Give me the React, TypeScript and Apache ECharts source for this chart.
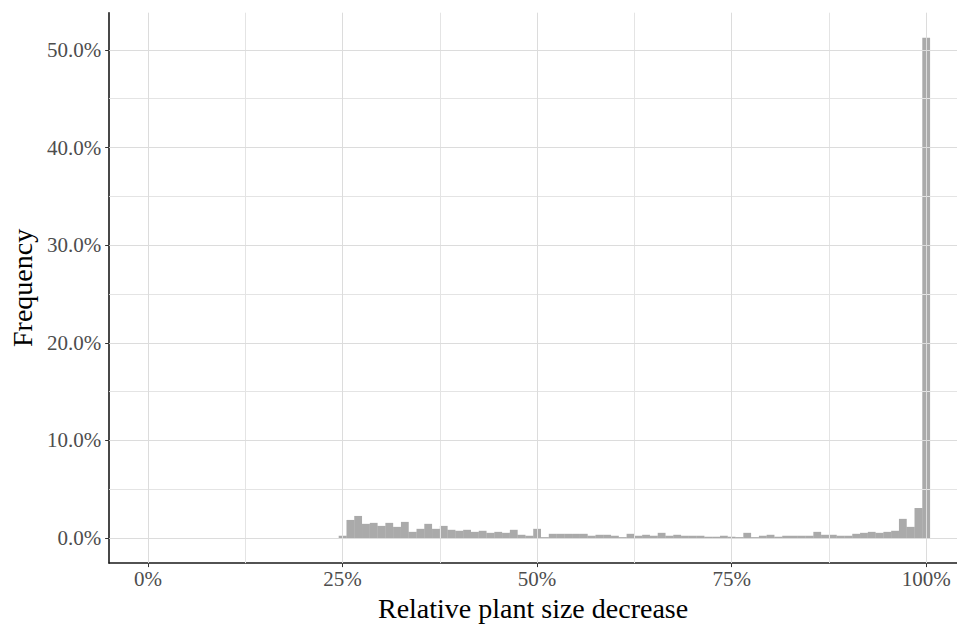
import React, { useEffect, useRef } from "react";
import * as echarts from "echarts";

// Histogram bin centres (relative plant size decrease, %)
const binCenters: number[] = [
  25, 26, 27, 28, 29, 30, 31, 32, 33, 34, 35, 36, 37, 38, 39, 40, 41, 42, 43, 44,
  45, 46, 47, 48, 49, 50, 51, 52, 53, 54, 55, 56, 57, 58, 59, 60, 61, 62, 63, 64,
  65, 66, 67, 68, 69, 70, 71, 72, 73, 74, 75, 76, 77, 78, 79, 80, 81, 82, 83, 84,
  85, 86, 87, 88, 89, 90, 91, 92, 93, 94, 95, 96, 97, 98, 99, 100,
];
// Frequency (%) per bin
const frequency: number[] = [
  0.24, 1.86, 2.27, 1.46, 1.56, 1.25, 1.56, 1.15, 1.66, 0.64, 0.95, 1.46, 0.95, 1.25, 0.85, 0.75, 0.85, 0.64, 0.75, 0.54,
  0.64, 0.54, 0.85, 0.34, 0.24, 0.95, 0.1, 0.44, 0.44, 0.44, 0.44, 0.44, 0.24, 0.34, 0.34, 0.24, 0.1, 0.44, 0.24, 0.34,
  0.24, 0.54, 0.24, 0.34, 0.24, 0.24, 0.24, 0.14, 0.14, 0.24, 0.14, 0.1, 0.54, 0.1, 0.24, 0.34, 0.14, 0.24, 0.24, 0.24,
  0.24, 0.64, 0.34, 0.34, 0.24, 0.24, 0.44, 0.54, 0.64, 0.54, 0.64, 0.75, 1.97, 1.15, 3.08, 51.25,
];
const binWidth = 1;

const xTicks: number[] = [0, 25, 50, 75, 100];
const xMinorGrid: number[] = [12.5, 37.5, 62.5, 87.5];
const yTicks: number[] = [0, 10, 20, 30, 40, 50];
const yMinorGrid: number[] = [5, 15, 25, 35, 45];

const FONT = "Liberation Serif";

export default function App() {
  const ref = useRef<HTMLDivElement>(null);
  useEffect(() => {
    if (!ref.current) return;
    const chart = echarts.init(ref.current, null, { renderer: "svg" });
    const majorLine = { color: "#dcdcdc", width: 1, type: "solid" as const };
    const minorLine = { color: "#e4e4e4", width: 1, type: "solid" as const };
    chart.setOption({
      animation: false,
      backgroundColor: "#ffffff",
      grid: { left: 105.7, top: 12.7, right: 0, bottom: 58.7, containLabel: false },
      xAxis: {
        type: "value",
        min: -5,
        max: 103.96,
        name: "Relative plant size decrease",
        nameLocation: "middle",
        nameGap: 24,
        nameTextStyle: { fontFamily: FONT, fontSize: 28, color: "#000" },
        axisLine: { show: true, onZero: false, lineStyle: { color: "#1a1a1a", width: 1.6 } },
        axisTick: { show: true, customValues: xTicks, length: 4, lineStyle: { color: "#333", width: 1 } },
        axisLabel: {
          customValues: xTicks,
          margin: 5,
          fontFamily: FONT,
          fontSize: 21,
          color: "#4d4d4d",
          formatter: (v: number) => `${v}%`,
        },
        splitLine: { show: false },
      },
      yAxis: {
        type: "value",
        min: -2.56,
        max: 53.81,
        name: "Frequency",
        nameLocation: "middle",
        nameGap: 70,
        nameRotate: 90,
        nameTextStyle: { fontFamily: FONT, fontSize: 28, color: "#000" },
        axisLine: { show: true, onZero: false, lineStyle: { color: "#1a1a1a", width: 1.6 } },
        axisTick: { show: true, customValues: yTicks, length: 4, lineStyle: { color: "#333", width: 1 } },
        axisLabel: {
          customValues: yTicks,
          margin: 8,
          fontFamily: FONT,
          fontSize: 21,
          color: "#4d4d4d",
          formatter: (v: number) => `${v.toFixed(1)}%`,
        },
        splitLine: { show: false },
      },
      series: [
        {
          type: "line",
          data: [],
          z: 1,
          silent: true,
          markLine: {
            silent: true,
            symbol: ["none", "none"],
            label: { show: false },
            animation: false,
            data: [
              ...xMinorGrid.map((v) => ({ xAxis: v, lineStyle: minorLine })),
              ...yMinorGrid.map((v) => ({ yAxis: v, lineStyle: minorLine })),
              ...xTicks.map((v) => ({ xAxis: v, lineStyle: majorLine })),
              ...yTicks.map((v) => ({ yAxis: v, lineStyle: majorLine })),
            ],
          },
        },
        {
          type: "custom",
          z: 3,
          encode: { x: 0, y: 1 },
          data: binCenters.map((c, i) => [c, frequency[i]]),
          renderItem: (params: any, api: any) => {
            const x = api.value(0);
            const y = api.value(1);
            const p0 = api.coord([x - binWidth / 2, y]);
            const p1 = api.coord([x + binWidth / 2, 0]);
            return {
              type: "rect",
              shape: { x: p0[0], y: p0[1], width: p1[0] - p0[0], height: p1[1] - p0[1] },
              style: { fill: "rgba(77,77,77,0.48)" },
            };
          },
        },
      ],
    });
    return () => chart.dispose();
  }, []);
  return <div ref={ref} style={{ position: "fixed", left: 0, top: 0, width: 957, height: 627 }} />;
}
